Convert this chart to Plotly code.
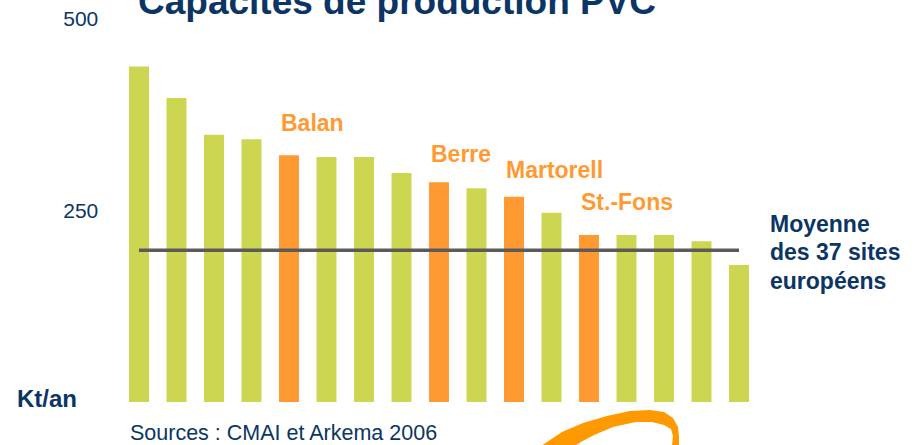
import plotly.graph_objects as go

# ---- data ----
values = [438, 397, 349, 343, 322, 320, 320, 299, 287, 279, 268, 247, 218, 218, 218, 210, 179]
highlight = {4: "Balan", 8: "Berre", 10: "Martorell", 12: "St.-Fons"}
average = 198
tick_vals = [250, 500]
tick_text = ["250", "500"]
avg_label = ["Moyenne", "des 37 sites", "européens"]
title_text = "Capacités de production PVC"
unit_text = "Kt/an"
source_text = "Sources : CMAI et Arkema 2006"

W, H = 924, 445
GREEN = "#cdd650"
ORANGE = "#ff9a33"
NAVY = "#0b3565"
LINE = "#5f5a5a"
FONT = "Liberation Sans, Arial, sans-serif"

def px(x):
    return x / W

def py(y):
    return 1 - y / H

n = len(values)
xs = list(range(n))
colors = [ORANGE if i in highlight else GREEN for i in xs]

fig = go.Figure()
fig.add_trace(go.Bar(x=xs, y=values, marker=dict(color=colors, line=dict(width=0)),
                     hoverinfo="skip"))
fig.add_trace(go.Scatter(x=[xs[0], xs[-1]], y=[average, average], mode="lines",
                         line=dict(color=LINE, width=3.5), hoverinfo="skip"))

half_bar = (1 - 0.467) / 2
label_shift = {4: 25, 8: 21, 10: 20, 12: 26}
annotations = []
for i, name in highlight.items():
    annotations.append(dict(x=xs[i] - half_bar, y=values[i], xref="x", yref="y",
                            text="<b>%s</b>" % name, showarrow=False,
                            xanchor="left", yanchor="bottom", yshift=label_shift[i] - 8,
                            font=dict(family=FONT, size=23, color=ORANGE)))

# average label, three lines centred on the average line
for k, line in enumerate(avg_label):
    annotations.append(dict(x=xs[-1] + 0.5, y=average, xref="x", yref="y",
                            text="<b>%s</b>" % line, showarrow=False,
                            xanchor="left", yanchor="middle", xshift=10,
                            yshift=(1 - k) * 28.5 - 2,
                            font=dict(family=FONT, size=23, color=NAVY)))

annotations.append(dict(x=px(136), y=py(2), xref="paper", yref="paper",
                        text="<b>%s</b>" % title_text, showarrow=False,
                        xanchor="left", yanchor="middle",
                        font=dict(family=FONT, size=37, color=NAVY)))
annotations.append(dict(x=px(15), y=py(398), xref="paper", yref="paper",
                        text="<b>%s</b>" % unit_text, showarrow=False,
                        xanchor="left", yanchor="middle",
                        font=dict(family=FONT, size=24, color=NAVY)))
annotations.append(dict(x=px(128), y=py(433), xref="paper", yref="paper",
                        text=source_text, showarrow=False,
                        xanchor="left", yanchor="middle",
                        font=dict(family=FONT, size=21.5, color=NAVY)))

# decorative orange swoosh (logo fragment)
outer = [(541, 446), (562, 432), (583, 423), (607, 416), (630, 411), (650, 410),
         (664, 412), (673, 418), (678, 427), (679, 437), (679, 446)]
inner = [(672, 446), (673, 436), (671, 429), (664, 425), (652, 422), (636, 422),
         (613, 427), (594, 435), (581, 442), (575, 446)]
pts = outer + inner
path = "M " + " L ".join("%.5f,%.5f" % (px(a), py(b)) for a, b in pts) + " Z"

fig.update_layout(
    width=W, height=H,
    margin=dict(l=0, r=0, t=0, b=0, pad=0, autoexpand=False),
    paper_bgcolor="white", plot_bgcolor="white",
    showlegend=False,
    bargap=0.467,
    annotations=annotations,
    shapes=[dict(type="path", path=path, xref="paper", yref="paper",
                 fillcolor="#ff9900", line=dict(width=0), layer="above")],
    xaxis=dict(domain=[px(120.25), px(757.75)], range=[-0.5, n - 0.5],
               showticklabels=False, showgrid=False, zeroline=False, showline=False,
               fixedrange=True),
    yaxis=dict(domain=[py(402), py(19)], range=[0, 500],
               tickvals=tick_vals, ticktext=tick_text, ticks="",
               ticklabelstandoff=21, automargin=False,
               tickfont=dict(family=FONT, size=21, color=NAVY),
               showgrid=False, zeroline=False, showline=False, fixedrange=True),
)

fig.write_html("out.html", config={"displayModeBar": False},
               post_script="document.body.style.margin='0';document.body.style.padding='0';")
